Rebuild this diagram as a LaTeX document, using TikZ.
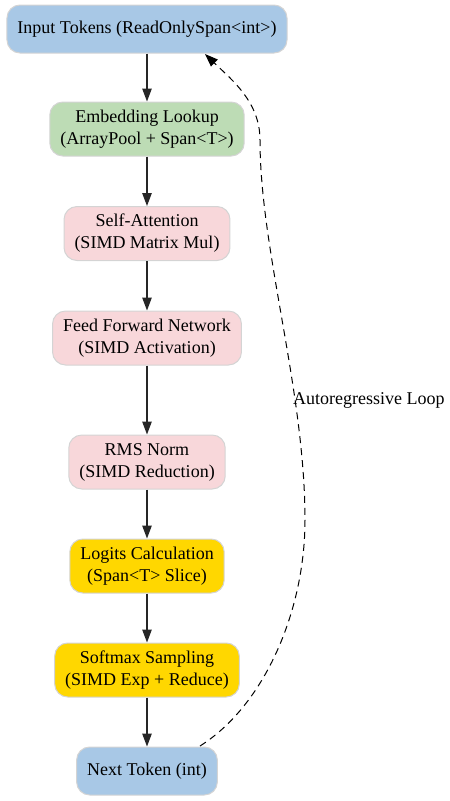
\documentclass[tikz,border=0pt]{standalone}
\usepackage{fontspec}
\setmainfont{Liberation Serif}
\usetikzlibrary{arrows.meta}
\definecolor{cblue}{HTML}{A8C8E6}
\definecolor{cgreen}{HTML}{BDDCB5}
\definecolor{cpink}{HTML}{F8D7DA}
\definecolor{cgold}{HTML}{FFD700}
\definecolor{cborder}{HTML}{D4D4D4}
\begin{document}
\begin{tikzpicture}[x=1pt,y=-1pt,
  box/.style={draw=cborder, line width=1pt, rounded corners=13pt, align=center,
    inner xsep=10.5pt, inner ysep=0pt, font=\fontsize{18}{22}\selectfont},
  one/.style={box, minimum height=48pt},
  two/.style={box, minimum height=54pt},
  flow/.style={draw=black!85, line width=1.1pt, -{Triangle[length=13pt,width=9.5pt]}},
  loopedge/.style={draw=black, line width=1pt, dash pattern=on 7pt off 5pt,
    -{Triangle[length=13pt,width=9.5pt]}}
]
\useasboundingbox (0,0) rectangle (450,801);
\node[one, fill=cblue] (in) at (147,29) {Input Tokens (ReadOnlySpan<int>)};
\node[two, fill=cgreen] (emb) at (147,129) {Embedding Lookup\\(ArrayPool + Span<T>)};
\node[two, fill=cpink] (att) at (147,233.5) {Self-Attention\\(SIMD Matrix Mul)};
\node[two, fill=cpink] (ffn) at (147,338) {Feed Forward Network\\(SIMD Activation)};
\node[two, fill=cpink] (rms) at (147,462) {RMS Norm\\(SIMD Reduction)};
\node[two, fill=cgold] (log) at (147,566) {Logits Calculation\\(Span<T> Slice)};
\node[two, fill=cgold] (soft) at (147,670) {Softmax Sampling\\(SIMD Exp + Reduce)};
\node[one, fill=cblue] (next) at (147,771) {Next Token (int)};

\draw[flow] (in) -- (emb);
\draw[flow] (emb) -- (att);
\draw[flow] (att) -- (ffn);
\draw[flow] (ffn) -- (rms);
\draw[flow] (rms) -- (log);
\draw[flow] (log) -- (soft);
\draw[flow] (soft) -- (next);

\coordinate (ls) at (200,746);
\coordinate (le) at (205,54);
\coordinate (l1) at (305,520);
\coordinate (l2) at (260,140);
\draw[loopedge] (ls) .. controls (265,705) and (305,610) .. (l1)
  .. controls (305,390) and (260,250) .. (l2)
  .. controls (260,102) and (232,80) .. (le);
\node[font=\fontsize{18}{22}\selectfont, anchor=west, inner sep=0pt] (lbl) at (293,400) {Autoregressive Loop};
\end{tikzpicture}
\end{document}
